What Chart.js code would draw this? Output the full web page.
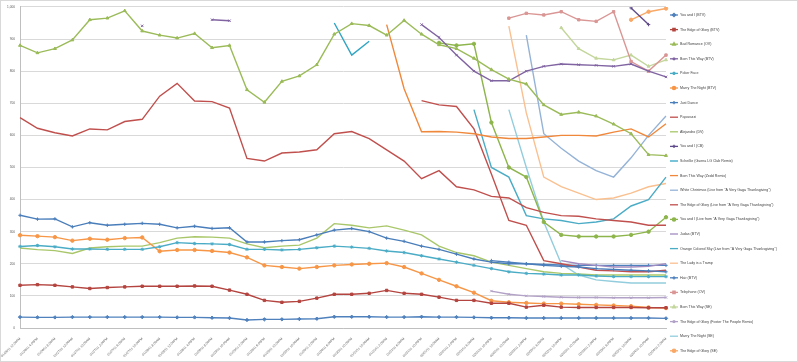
<!DOCTYPE html>
<html>
<head>
<meta charset="utf-8">
<script src="https://cdn.jsdelivr.net/npm/chart.js@4.4.1/dist/chart.umd.min.js"></script>
<style>
  html, body { margin: 0; padding: 0; background: #fff; }
  #wrap { width: 798px; height: 362px; }
</style>
</head>
<body>
<div id="wrap"><canvas id="grafica" width="798" height="362"></canvas></div>
<script>
const N = null;

const etiquetas = [
  '01/26/11 12:00PM', '01/26/11 4:00PM', '01/26/11 8:00PM', '01/27/11 12:00AM', '01/27/11 10:00AM',
  '01/27/11 2:00PM', '01/27/11 6:00PM', '01/27/11 10:00PM', '01/28/11 8:00AM', '01/28/11 12:00PM',
  '01/28/11 4:00PM', '01/28/11 8:00PM', '01/29/11 10:00AM', '01/29/11 2:00PM', '01/29/11 6:00PM',
  '01/29/11 10:00PM', '01/30/11 10:00AM', '01/30/11 2:00PM', '01/30/11 6:00PM', '01/30/11 10:00PM',
  '01/31/11 10:00AM', '01/31/11 2:00PM', '01/31/11 6:00PM', '01/31/11 10:00PM', '02/01/11 10:00AM',
  '02/01/11 2:00PM', '02/01/11 6:00PM', '02/01/11 10:00PM', '02/02/11 10:00AM', '02/02/11 2:00PM',
  '02/02/11 6:00PM', '02/02/11 10:00PM', '02/03/11 10:00AM', '02/03/11 2:00PM', '02/03/11 6:00PM',
  '02/03/11 10:00PM', '02/04/11 10:00AM', '02/04/11 2:00PM'
];

const youAndIBTV = [34,33,33,34,34,34,34,34,34,33,33,32,31,25,27,27,28,29,35,35,35,34,34,35,34,34,33,32,32,31,31,31,31,31,31,31,31,30];
const edgeOfGloryBTV = [133,135,133,128,123,126,128,130,130,130,131,130,118,105,86,80,83,93,105,105,108,117,108,105,96,86,86,77,77,65,71,65,64,64,64,64,63,63];
const badRomance = [880,857,870,897,960,965,988,925,912,903,917,873,880,742,703,768,785,820,915,948,942,912,958,915,882,870,840,805,775,760,695,665,672,660,635,605,540,537];
const bornThisWayBTV = [N,N,N,N,N,N,N,941,N,N,N,960,957,N,N,N,N,N,N,N,N,N,N,945,905,850,800,770,770,800,815,822,820,818,815,822,800,782];
const pokerFace = [254,257,253,246,246,245,245,245,253,266,263,262,260,245,245,243,245,250,255,252,248,240,235,225,215,205,195,185,175,170,168,165,165,162,160,160,160,160];
const marryTheNightBTV = [289,286,283,272,278,275,280,282,239,243,243,240,235,220,195,190,185,190,195,198,200,202,190,170,150,130,110,85,80,78,76,76,74,72,70,68,64,62];
const justDance = [351,339,340,315,328,320,323,326,323,312,317,310,312,268,268,272,275,290,305,310,300,280,270,255,245,230,215,205,200,200,195,192,190,185,182,180,178,175];
const paparazzi = [655,622,608,598,620,617,643,650,722,762,707,705,685,528,520,545,548,555,605,612,590,555,520,465,490,440,430,410,405,375,360,350,348,340,335,330,320,320];
const alejandro = [249,244,241,232,249,253,255,255,266,280,284,283,280,262,250,255,258,280,325,320,312,318,305,290,255,235,225,205,195,185,175,170,168,165,165,165,165,165];
const youAndICB = [N,N,N,N,N,N,N,N,N,N,N,N,N,N,N,N,N,N,N,N,N,N,N,N,N,N,N,N,N,N,N,N,N,N,N,997,945,N];
const scheisse = [N,N,N,N,N,N,N,N,N,N,N,N,N,N,N,N,N,N,950,850,893,N,N,N,N,N,N,N,N,N,N,N,N,N,N,N,N,N];
const bornThisWayZedd = [N,N,N,N,N,N,N,N,N,N,N,N,N,N,N,N,N,N,N,N,N,945,745,611,612,610,605,595,590,590,595,600,600,598,610,620,595,636];
const whiteChristmas = [N,N,N,N,N,N,N,N,N,N,N,N,N,N,N,N,N,N,N,N,N,N,N,N,N,N,N,N,N,912,605,560,520,490,470,530,600,660];
const edgeOfGloryLive = [N,N,N,N,N,N,N,N,N,N,N,N,N,N,N,N,N,N,N,N,N,N,N,708,695,690,620,480,335,320,210,200,190,180,178,175,175,180];
const youAndILive = [N,N,N,N,N,N,N,N,N,N,N,N,N,N,N,N,N,N,N,N,N,N,N,N,888,880,885,640,500,470,330,290,285,285,285,290,300,345];
const judasBTV = [N,N,N,N,N,N,N,N,N,N,N,N,N,N,N,N,N,N,N,N,N,N,N,N,N,N,N,N,N,N,N,210,200,195,190,190,192,200];
const orangeColoredSky = [N,N,N,N,N,N,N,N,N,N,N,N,N,N,N,N,N,N,N,N,N,N,N,N,N,N,680,500,470,350,340,335,325,330,340,380,400,470];
const ladyIsATramp = [N,N,N,N,N,N,N,N,N,N,N,N,N,N,N,N,N,N,N,N,N,N,N,N,N,N,N,N,940,670,470,440,420,400,405,420,440,450];
const hairBTV = [N,N,N,N,N,N,N,N,N,N,N,N,N,N,N,N,N,N,N,N,N,N,N,N,N,N,N,210,205,200,198,196,195,195,195,195,195,195];
const telephone = [N,N,N,N,N,N,N,N,N,N,N,N,N,N,N,N,N,N,N,N,N,N,N,N,N,N,N,N,965,980,975,985,960,955,985,830,800,850];
const bornThisWaySE = [N,N,N,N,N,N,N,N,N,N,N,N,N,N,N,N,N,N,N,N,N,N,N,N,N,N,N,N,N,N,N,935,870,840,835,850,815,835];
const edgeOfGloryFTP = [N,N,N,N,N,N,N,N,N,N,N,N,N,N,N,N,N,N,N,N,N,N,N,N,N,N,N,115,105,100,98,96,95,95,94,94,94,95];
const marryTheNightSE = [N,N,N,N,N,N,N,N,N,N,N,N,N,N,N,N,N,N,N,N,N,N,N,N,N,N,N,N,680,500,330,200,165,150,145,140,140,140];
const edgeOfGlorySE = [N,N,N,N,N,N,N,N,N,N,N,N,N,N,N,N,N,N,N,N,N,N,N,N,N,N,N,N,N,N,N,N,N,N,N,960,985,995];

const nombres = [
  'You and I (BTV)', 'The Edge of Glory (BTV)', 'Bad Romance (OV)', 'Born This Way (BTV)',
  'Poker Face', 'Marry The Night (BTV)', 'Just Dance', 'Paparazzi', 'Alejandro (DV)', 'You and I (CB)',
  'Scheiße (Guena LG Club Remix)', 'Born This Way (Zedd Remix)',
  'White Christmas (Live from "A Very Gaga Thanksgiving")',
  'The Edge of Glory (Live from "A Very Gaga Thanksgiving")',
  'You and I (Live from "A Very Gaga Thanksgiving")', 'Judas (BTV)',
  'Orange Colored Sky (Live from "A Very Gaga Thanksgiving")', 'The Lady is a Tramp', 'Hair (BTV)',
  'Telephone (OV)', 'Born This Way (SE)', 'The Edge of Glory (Foster The People Remix)',
  'Marry The Night (SE)', 'The Edge of Glory (SE)'
];
const valores = [
  youAndIBTV, edgeOfGloryBTV, badRomance, bornThisWayBTV, pokerFace, marryTheNightBTV, justDance,
  paparazzi, alejandro, youAndICB, scheisse, bornThisWayZedd, whiteChristmas, edgeOfGloryLive,
  youAndILive, judasBTV, orangeColoredSky, ladyIsATramp, hairBTV, telephone, bornThisWaySE,
  edgeOfGloryFTP, marryTheNightSE, edgeOfGlorySE
];

const colores = [
  '#4F81BD', '#B4443F', '#9BBB59', '#8064A2', '#4BACC6', '#F79646', '#4A7EBB', '#C0504D',
  '#A9C76A', '#5F4B8B', '#31A5C4', '#F0883C', '#95B3D7', '#C0504D', '#8DB54B', '#A08BC0',
  '#4BACC6', '#FAC090', '#4F81BD', '#D99694', '#C3D69B', '#B3A2C7', '#93CDDD', '#F9A866'
];
const marcadores = [
  'rectRot', 'rect', 'triangle', 'crossRot', 'star', 'circle', 'cross', false, false, 'cross',
  false, false, false, false, 'circle', false, false, false, 'cross', 'rect', 'triangle', 'crossRot',
  false, 'circle'
];

const datasets = nombres.map((nombre, i) => ({
  label: nombre,
  data: valores[i],
  borderColor: colores[i],
  backgroundColor: colores[i],
  borderWidth: 1.4,
  pointStyle: marcadores[i] || 'circle',
  pointRadius: marcadores[i] ? 1.7 : 0,
  pointBorderWidth: 1,
  tension: 0,
  spanGaps: false
}));

// leyenda a la derecha, al estilo de Excel: línea corta con su marcador y el nombre
const leyenda = {
  id: 'leyenda',
  afterDraw(chart) {
    const ctx = chart.ctx;
    ctx.save();
    chart.data.datasets.forEach((ds, i) => {
      const y = 15 + i * 14.6;
      ctx.strokeStyle = ds.borderColor;
      ctx.fillStyle = ds.borderColor;
      ctx.lineWidth = 1.3;
      ctx.beginPath();
      ctx.moveTo(670, y);
      ctx.lineTo(678, y);
      ctx.stroke();
      if (marcadores[i]) {
        Chart.helpers.drawPoint(ctx, { pointStyle: marcadores[i], radius: 1.6, borderWidth: 1 }, 674, y);
      }
      ctx.fillStyle = '#404040';
      ctx.font = '3.6px "Liberation Sans"';
      ctx.textBaseline = 'middle';
      ctx.textAlign = 'left';
      ctx.fillText(ds.label, 680, y);
    });
    ctx.strokeStyle = '#D9D9D9';
    ctx.lineWidth = 1;
    ctx.strokeRect(0.5, 0.5, 797, 361);
    ctx.restore();
  }
};

new Chart(document.getElementById('grafica'), {
  type: 'line',
  data: { labels: etiquetas, datasets },
  options: {
    responsive: false,
    animation: false,
    layout: { padding: { top: 4, right: 132, left: 0, bottom: 0 } },
    plugins: { legend: { display: false }, tooltip: { enabled: false } },
    scales: {
      x: {
        grid: { display: false, drawTicks: true },
        border: { color: '#BFBFBF' },
        ticks: {
          autoSkip: false, minRotation: 45, maxRotation: 45, padding: 1,
          color: '#595959', font: { size: 3.2, family: 'Liberation Sans' }
        },
        afterFit: (s) => { s.height = 34; }
      },
      y: {
        min: 0, max: 1000,
        grid: { color: '#D9D9D9', drawTicks: false },
        border: { color: '#BFBFBF' },
        ticks: {
          stepSize: 100, padding: 5,
          color: '#595959', font: { size: 3.2, family: 'Liberation Sans' }
        },
        afterFit: (s) => { s.width = 20; }
      }
    }
  },
  plugins: [leyenda]
});
</script>
</body>
</html>
